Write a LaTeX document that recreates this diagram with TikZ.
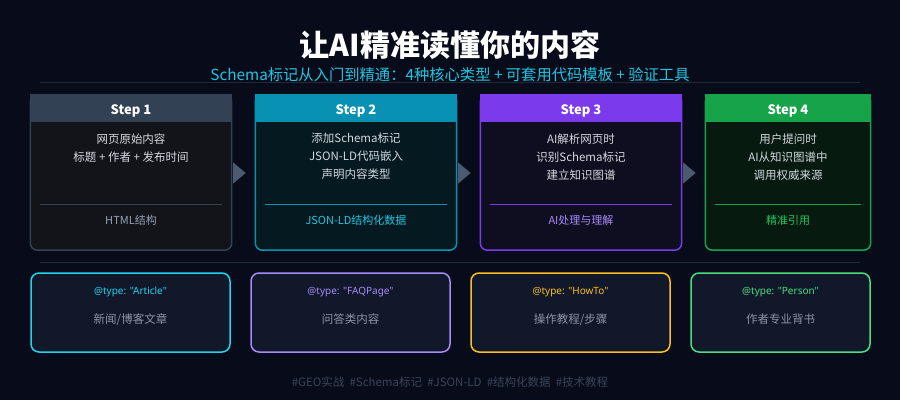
\documentclass[tikz,border=0pt]{standalone}
\usepackage{fontspec}
\setmainfont{Noto Sans CJK SC}
\newfontfamily\latinfont{Noto Sans}
\usetikzlibrary{calc}
\definecolor{bg}{HTML}{070B1A}
\definecolor{rule}{HTML}{1E293B}
\definecolor{subcol}{HTML}{22C5E0}
\definecolor{hA}{HTML}{334155}
\definecolor{hB}{HTML}{0891B2}
\definecolor{hC}{HTML}{7C3AED}
\definecolor{hD}{HTML}{16A34A}
\definecolor{bA}{HTML}{121419}
\definecolor{bB}{HTML}{051921}
\definecolor{bC}{HTML}{0F0E20}
\definecolor{bD}{HTML}{061A10}
\definecolor{sA}{HTML}{94A3B8}
\definecolor{sB}{HTML}{22C5E0}
\definecolor{sC}{HTML}{A78BFA}
\definecolor{sD}{HTML}{22C55E}
\definecolor{txt}{HTML}{D4D8DE}
\definecolor{arrowcol}{HTML}{4B5A6E}
\definecolor{cardbg}{HTML}{101829}
\definecolor{cA}{HTML}{22D3EE}
\definecolor{cB}{HTML}{A78BFA}
\definecolor{cC}{HTML}{FBBF24}
\definecolor{cD}{HTML}{4ADE80}
\definecolor{desc}{HTML}{8C96A6}
\definecolor{foot}{HTML}{3A4558}
\begin{document}
\begin{tikzpicture}[x=1pt,y=-1pt,
  stepframe/.style={rectangle,inner sep=0pt,minimum height=155pt},
  cardbox/.style={rectangle,rounded corners=8pt,line width=1.5pt,fill=cardbg,minimum height=79pt,inner sep=0pt},
  steptitle/.style={font=\fontsize{13}{15}\selectfont\bfseries,text=white},
  stepbody/.style={font=\fontsize{11.5}{18}\selectfont,text=txt,align=center,anchor=north},
  steplabel/.style={font=\fontsize{11}{13}\selectfont},
  typelabel/.style={font=\latinfont\fontsize{10}{12}\selectfont},
  desclabel/.style={font=\fontsize{11.5}{13}\selectfont,text=desc},
  tri/.style={fill=arrowcol}
]
\fill[bg] (0,0) rectangle (900,400);
\useasboundingbox (0,0) rectangle (900,400);

% title
\node (title) at (450,45) {\fontsize{30}{32}\selectfont\bfseries\color{white}让AI精准读懂你的内容};
\node (subtitle) at (450,75) {\fontsize{15.3}{17}\selectfont\color{subcol}Schema标记从入门到精通：4种核心类型 + 可套用代码模板 + 验证工具};
\draw[rule,line width=1pt] (40,82) -- (860,82);

% step frames (invisible positioning nodes)
\node[stepframe,minimum width=201pt] (s1) at (131,172.5) {};
\node[stepframe,minimum width=201pt] (s2) at (356,172.5) {};
\node[stepframe,minimum width=201pt] (s3) at (581,172.5) {};
\node[stepframe,minimum width=165pt] (s4) at (788,172.5) {};

\foreach \s/\h/\b/\c in {s1/hA/bA/sA, s2/hB/bB/sB, s3/hC/bC/sC, s4/hD/bD/sD}{
  \draw[fill=\b,draw=\h,line width=1.5pt,rounded corners=7pt] (\s.north west) rectangle (\s.south east);
  \fill[\h] ($(\s.north west)+(-0.75,-0.75)$) rectangle ($(\s.north east)+(0.75,27)$);
  \draw[\h,line width=0.8pt] ($(\s.north west)+(10,110)$) -- ($(\s.north east)+(-10,110)$);
}

% step titles
\node[steptitle] (t1) at ($(s1.north)+(0,16)$) {Step 1};
\node[steptitle] (t2) at ($(s2.north)+(0,16)$) {Step 2};
\node[steptitle] (t3) at ($(s3.north)+(0,16)$) {Step 3};
\node[steptitle] (t4) at ($(s4.north)+(0,16)$) {Step 4};

% step bodies
\node[stepbody] (b1) at ($(s1.north)+(0,35)$) {网页原始内容\\标题 + 作者 + 发布时间};
\node[stepbody] (b2) at ($(s2.north)+(0,35)$) {添加Schema标记\\JSON-LD代码嵌入\\声明内容类型};
\node[stepbody] (b3) at ($(s3.north)+(0,35)$) {AI解析网页时\\识别Schema标记\\建立知识图谱};
\node[stepbody] (b4) at ($(s4.north)+(0,35)$) {用户提问时\\AI从知识图谱中\\调用权威来源};

% step bottom labels
\node[steplabel,text=sA] (l1) at ($(s1.north)+(0,126)$) {HTML结构};
\node[steplabel,text=sB] (l2) at ($(s2.north)+(0,126)$) {JSON-LD结构化数据};
\node[steplabel,text=sC] (l3) at ($(s3.north)+(0,126)$) {AI处理与理解};
\node[steplabel,text=sD] (l4) at ($(s4.north)+(0,126)$) {精准引用};

% arrows between steps
\foreach \a in {s1,s2,s3}{
  \fill[tri] ($(\a.east)+(1.5,-10)$) -- ($(\a.east)+(14,0.5)$) -- ($(\a.east)+(1.5,11)$) -- cycle;
}

% divider
\draw[rule,line width=1pt] (40,262) -- (860,262);

% cards
\node[cardbox,draw=cA,minimum width=199pt] (c1) at (130.5,312.5) {};
\node[cardbox,draw=cB,minimum width=199pt] (c2) at (350.5,312.5) {};
\node[cardbox,draw=cC,minimum width=199pt] (c3) at (570.5,312.5) {};
\node[cardbox,draw=cD,minimum width=179pt] (c4) at (780.5,312.5) {};

\node[typelabel,text=cA] (y1) at ($(c1.north)+(0,20)$) {@type: "Article"};
\node[typelabel,text=cB] (y2) at ($(c2.north)+(0,20)$) {@type: "FAQPage"};
\node[typelabel,text=cC] (y3) at ($(c3.north)+(0,20)$) {@type: "HowTo"};
\node[typelabel,text=cD] (y4) at ($(c4.north)+(0,20)$) {@type: "Person"};

\node[desclabel] (d1) at ($(c1.north)+(0,47)$) {新闻/博客文章};
\node[desclabel] (d2) at ($(c2.north)+(0,47)$) {问答类内容};
\node[desclabel] (d3) at ($(c3.north)+(0,47)$) {操作教程/步骤};
\node[desclabel] (d4) at ($(c4.north)+(0,47)$) {作者专业背书};

% footer
\node (footer) at (450,382) {\fontsize{11.5}{13}\selectfont\color{foot}\#GEO实战\ \ \#Schema标记\ \ \#JSON-LD\ \ \#结构化数据\ \ \#技术教程};
\end{tikzpicture}
\end{document}
